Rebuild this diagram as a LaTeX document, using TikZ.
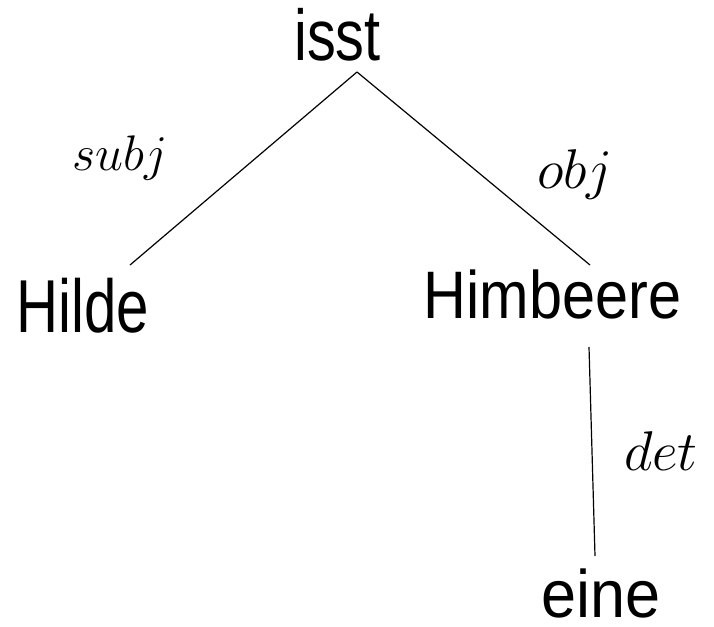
\documentclass[tikz,border=0pt]{standalone}
\usepackage{fontspec}
\usepackage{graphicx}
% make the math italic letters scalable to any size
\DeclareFontShape{OML}{cmm}{m}{it}{<-8>cmmi7 <8-12>cmmi10 <12->cmmi12}{}
\newfontfamily\wordfont{Liberation Sans}
\newcommand{\wordbox}[3]{\scalebox{#1}[#2]{\wordfont\fontsize{60}{60}\selectfont #3}}
\begin{document}
\begin{tikzpicture}[x=1pt,y=-1pt,
  word/.style={inner sep=0pt, anchor=base, text depth=0pt},
  rel/.style={inner sep=0pt, anchor=base, font=\fontsize{50}{50}\selectfont},
  bigrel/.style={rel, font=\fontsize{56}{56}\selectfont},
  edge/.style={line width=1.2pt}]
\useasboundingbox (0,0) rectangle (714,626);

% words of the sentence
\node[word] (isst)     at (337.5,60)  {\wordbox{0.96}{1.2}{isst}};
\node[word] (hilde)    at (83,332)    {\wordbox{0.97}{1.25}{Hilde}};
\node[word] (himbeere) at (552.5,318) {\wordbox{0.99}{1.12}{Himbeere}};
\node[word] (eine)     at (601.5,617) {\wordbox{1.05}{1.12}{eine}};

% dependency relations
\draw[edge] ([shift={(19.5,12)}]isst.base) -- ([shift={(47,-67)}]hilde.base);
\draw[edge] ([shift={(19.5,12)}]isst.base) -- ([shift={(37.5,-53)}]himbeere.base);
\draw[edge] ([shift={(36.5,29)}]himbeere.base) -- ([shift={(-6.5,-61)}]eine.base);

% relation labels
\node[rel]    (lsubj) at (120,170) {$subj$};
\node[bigrel] (lobj)  at (575,188) {$obj$};
\node[bigrel] (ldet)  at (661,470) {$det$};
\end{tikzpicture}
\end{document}
